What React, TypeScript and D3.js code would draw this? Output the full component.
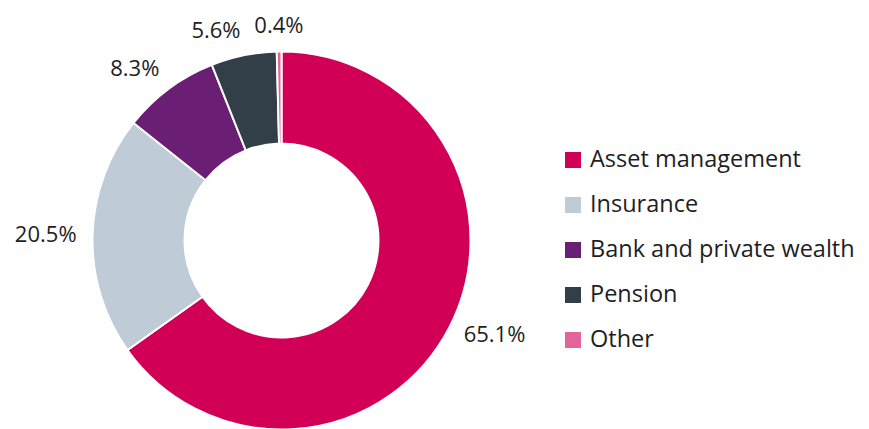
import React from 'react';
import * as d3 from 'd3';

const categories = ['Asset management', 'Insurance', 'Bank and private wealth', 'Pension', 'Other'];
const shares = [65.1, 20.5, 8.3, 5.6, 0.4];
const colors = ['#d10056', '#bfcbd7', '#6a1f74', '#323e48', '#e2649a'];

const W = 869, H = 429;
const cx = 281.5, cy = 240.5;
const outerR = 189, innerR = 97;

export default function App() {
    const data = categories.map((c, i) => ({ name: c, value: shares[i], color: colors[i] }));
    const pie = d3.pie<any>().value(d => d.value).sort(null);
    const arcs = pie(data);
    const arc = d3.arc<any>().innerRadius(innerR).outerRadius(outerR);

    const font = '"Open Sans", sans-serif';

    const labels = arcs.map(a => {
        const mid = (a.startAngle + a.endAngle) / 2;
        const r = outerR + 16;
        const s = Math.sin(mid), c = Math.cos(mid);
        let x = cx + r * s;
        let y = cy - r * c;
        if (c > 0) y -= c * 10; // lift upper labels a bit
        const anchor = s > 0.15 ? 'start' : s < -0.15 ? 'end' : 'middle';
        return { x, y, anchor, text: a.data.value.toFixed(1) + '%' };
    });

    const legendY = d3.scalePoint<string>().domain(categories).range([159, 339]);

    return (
        <svg width={W} height={H} style={{ position: 'absolute', left: 0, top: 0, background: '#fff' }}>
            <g transform={`translate(${cx},${cy})`}>
                {arcs.map((a, i) => (
                    <path key={i} d={arc(a) || ''} fill={a.data.color} stroke="#fff" strokeWidth={2} />
                ))}
            </g>
            {labels.map((l, i) => (
                <text key={i} x={l.x} y={l.y} dy="0.35em" textAnchor={l.anchor}
                    fontFamily={font} fontSize={22} fill="#1e1e1e">{l.text}</text>
            ))}
            {data.map((d, i) => (
                <g key={i} transform={`translate(565,${legendY(d.name)})`}>
                    <rect x={0} y={-7} width={16} height={16} fill={d.color} />
                    <text x={25} y={0} dy="0.35em" fontFamily={font} fontSize={23.5} fill="#1e1e1e">{d.name}</text>
                </g>
            ))}
        </svg>
    );
}
